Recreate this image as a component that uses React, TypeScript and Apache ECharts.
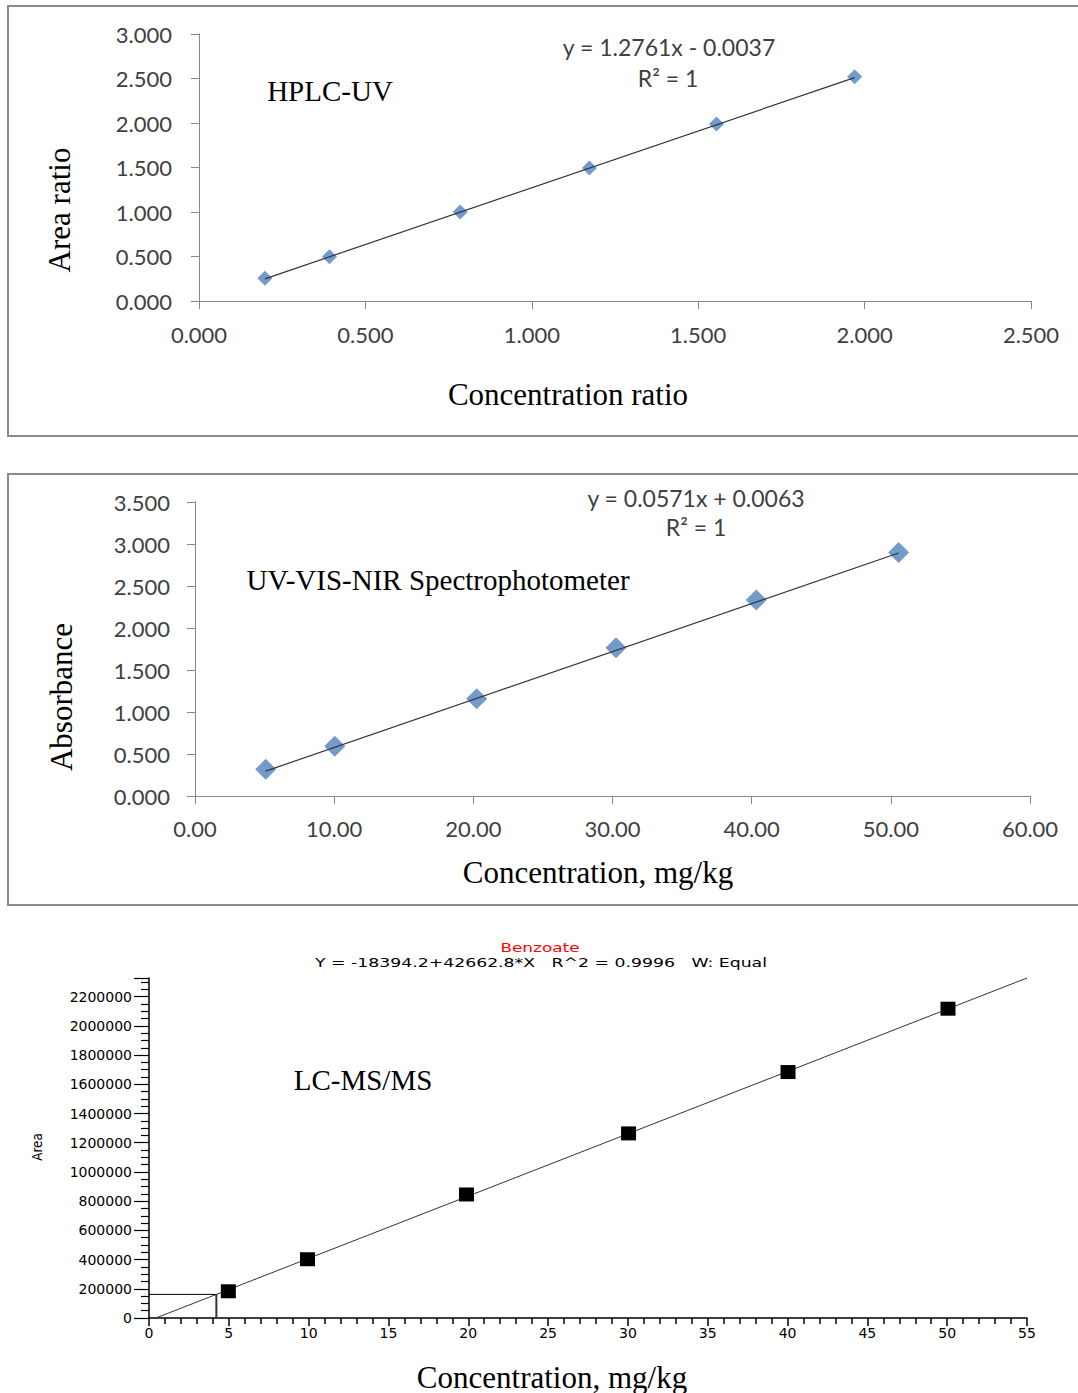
import React, { useEffect, useRef } from 'react';
import * as echarts from 'echarts';

// ---------- Panel 1: HPLC-UV ----------
const hplcConcRatio = [0.198, 0.392, 0.785, 1.173, 1.555, 1.970];
const hplcAreaRatio = [0.255, 0.498, 1.001, 1.493, 1.988, 2.520];
const hplcSlope = 1.2761;
const hplcIntercept = -0.0037;

// ---------- Panel 2: UV-VIS-NIR ----------
const uvConc = [5.08, 10.04, 20.24, 30.25, 40.33, 50.56];
const uvAbsorbance = [0.318, 0.593, 1.157, 1.765, 2.334, 2.899];
const uvSlope = 0.0571;
const uvIntercept = 0.0063;

// ---------- Panel 3: LC-MS/MS ----------
const msConc = [4.97, 9.93, 19.89, 30.04, 40.03, 50.05];
const msArea = [183000, 402300, 845800, 1263900, 1684000, 2117900];
const msSlope = 42662.8;
const msIntercept = -18394.2;
const msXMax = 55;
const msSampleConc = 4.22;

const serif = '"Liberation Serif", "Times New Roman", serif';
const sans = 'Lato, "Open Sans", sans-serif';
const msFont = '"DejaVu Sans", sans-serif';

const excelAxisLine = { lineStyle: { color: '#868686', width: 1 } };

function excelAxis(gridIndex: number, min: number, max: number, interval: number, decimals: number, margin: number) {
  return {
    type: 'value',
    gridIndex,
    min,
    max,
    interval,
    axisLine: { show: true, ...excelAxisLine },
    axisTick: { show: true, length: 8, lineStyle: { color: '#868686' } },
    splitLine: { show: false },
    axisLabel: {
      formatter: (v: number) => v.toFixed(decimals),
      fontFamily: sans,
      fontSize: 22,
      color: '#404040',
      margin,
    },
  };
}

export default function App() {
  const ref = useRef<HTMLDivElement>(null);

  useEffect(() => {
    const chart = echarts.init(ref.current!, null, { renderer: 'svg' });

    const hplcFit = [hplcConcRatio[0], hplcConcRatio[hplcConcRatio.length - 1]].map((x) => [x, hplcSlope * x + hplcIntercept]);
    const uvFit = [uvConc[0], uvConc[uvConc.length - 1]].map((x) => [x, uvSlope * x + uvIntercept]);
    const msYMax = msSlope * msXMax + msIntercept;
    const msFit = [0, msXMax].map((x) => [x, msSlope * x + msIntercept]);
    const msSampleArea = msSlope * msSampleConc + msIntercept;

    const option: any = {
      animation: false,
      backgroundColor: '#ffffff',
      grid: [
        { left: 199, top: 34, width: 832, height: 267 },
        { left: 195, top: 502, width: 835, height: 294 },
        { left: 149, top: 978, width: 878, height: 340 },
      ],
      xAxis: [
        excelAxis(0, 0, 2.5, 0.5, 3, 22),
        excelAxis(1, 0, 60, 10, 2, 21),
        {
          type: 'value',
          gridIndex: 2,
          min: 0,
          max: msXMax,
          interval: 5,
          axisLine: { show: true, lineStyle: { color: '#000', width: 1.5 } },
          axisTick: { show: true, length: 8, lineStyle: { color: '#000', width: 1.5 } },
          minorTick: { show: true, splitNumber: 5, length: 6, lineStyle: { color: '#000', width: 1.5 } },
          splitLine: { show: false },
          minorSplitLine: { show: false },
          axisLabel: { fontFamily: msFont, fontSize: 14, color: '#000', margin: 8 },
        },
      ],
      yAxis: [
        excelAxis(0, 0, 3, 0.5, 3, 27),
        excelAxis(1, 0, 3.5, 0.5, 3, 25),
        {
          type: 'value',
          gridIndex: 2,
          min: 0,
          max: msYMax,
          interval: 200000,
          axisLine: { show: true, lineStyle: { color: '#000', width: 1.5 } },
          axisTick: { show: true, length: 15, lineStyle: { color: '#000', width: 1.2 } },
          minorTick: { show: true, splitNumber: 4, length: 8, lineStyle: { color: '#000', width: 1.2 } },
          splitLine: { show: false },
          minorSplitLine: { show: false },
          axisLabel: {
            fontFamily: msFont,
            fontSize: 14,
            color: '#000',
            margin: 17,
            showMaxLabel: false,
            formatter: (v: number) => (v % 200000 === 0 ? String(v) : ''),
          },
        },
      ],
      series: [
        {
          type: 'scatter',
          xAxisIndex: 0,
          yAxisIndex: 0,
          symbol: 'diamond',
          symbolSize: 15,
          itemStyle: { color: '#4F81BD' },
          data: hplcConcRatio.map((x, i) => [x, hplcAreaRatio[i]]),
          z: 2,
        },
        {
          type: 'line',
          xAxisIndex: 0,
          yAxisIndex: 0,
          symbol: 'none',
          lineStyle: { color: '#333', width: 1.2 },
          data: hplcFit,
          z: 3,
        },
        {
          type: 'scatter',
          xAxisIndex: 1,
          yAxisIndex: 1,
          symbol: 'diamond',
          symbolSize: 21,
          itemStyle: { color: '#4F81BD' },
          data: uvConc.map((x, i) => [x, uvAbsorbance[i]]),
          z: 2,
        },
        {
          type: 'line',
          xAxisIndex: 1,
          yAxisIndex: 1,
          symbol: 'none',
          lineStyle: { color: '#333', width: 1.2 },
          data: uvFit,
          z: 3,
        },
        {
          type: 'line',
          xAxisIndex: 2,
          yAxisIndex: 2,
          symbol: 'none',
          clip: true,
          lineStyle: { color: '#333', width: 1 },
          data: msFit,
          z: 2,
        },
        {
          type: 'line',
          xAxisIndex: 2,
          yAxisIndex: 2,
          symbol: 'none',
          lineStyle: { color: '#000', width: 1 },
          data: [[0, msSampleArea], [msSampleConc, msSampleArea]],
          z: 2,
        },
        {
          type: 'line',
          xAxisIndex: 2,
          yAxisIndex: 2,
          symbol: 'none',
          lineStyle: { color: '#333', width: 2 },
          data: [[msSampleConc, 0], [msSampleConc, msSampleArea]],
          z: 2,
        },
        {
          type: 'scatter',
          xAxisIndex: 2,
          yAxisIndex: 2,
          symbol: 'rect',
          symbolSize: [15, 14],
          itemStyle: { color: '#000', opacity: 1 },
          data: msConc.map((x, i) => [x, msArea[i]]),
          z: 3,
        },
      ],
      graphic: [
        { type: 'rect', silent: true, z: -10, shape: { x: 8, y: 6, width: 1090, height: 430 }, style: { fill: 'none', stroke: '#8a8a8a', lineWidth: 2 } },
        { type: 'rect', silent: true, z: -10, shape: { x: 8, y: 474, width: 1090, height: 431 }, style: { fill: 'none', stroke: '#8a8a8a', lineWidth: 2 } },
        // panel 1 texts
        { type: 'text', x: 330, y: 91, style: { text: 'HPLC-UV', font: `29px ${serif}`, fill: '#000', align: 'center', verticalAlign: 'middle' } },
        { type: 'text', x: 669, y: 47, style: { text: 'y = 1.2761x - 0.0037', font: `23px ${sans}`, fill: '#404040', align: 'center', verticalAlign: 'middle' } },
        { type: 'text', x: 668, y: 78, style: { text: 'R² = 1', font: `23px ${sans}`, fill: '#404040', align: 'center', verticalAlign: 'middle' } },
        { type: 'text', x: 59, y: 210, rotation: Math.PI / 2, style: { text: 'Area ratio', font: `31px ${serif}`, fill: '#000', align: 'center', verticalAlign: 'middle' } },
        { type: 'text', x: 568, y: 394, style: { text: 'Concentration ratio', font: `31px ${serif}`, fill: '#000', align: 'center', verticalAlign: 'middle' } },
        // panel 2 texts
        { type: 'text', x: 438, y: 580, style: { text: 'UV-VIS-NIR Spectrophotometer', font: `29px ${serif}`, fill: '#000', align: 'center', verticalAlign: 'middle' } },
        { type: 'text', x: 696, y: 498, style: { text: 'y = 0.0571x + 0.0063', font: `23px ${sans}`, fill: '#404040', align: 'center', verticalAlign: 'middle' } },
        { type: 'text', x: 696, y: 527, style: { text: 'R² = 1', font: `23px ${sans}`, fill: '#404040', align: 'center', verticalAlign: 'middle' } },
        { type: 'text', x: 61, y: 697, rotation: Math.PI / 2, style: { text: 'Absorbance', font: `31px ${serif}`, fill: '#000', align: 'center', verticalAlign: 'middle' } },
        { type: 'text', x: 598, y: 872, style: { text: 'Concentration, mg/kg', font: `31px ${serif}`, fill: '#000', align: 'center', verticalAlign: 'middle' } },
        // panel 3 texts
        { type: 'text', x: 540, y: 948, scaleX: 1.3, style: { text: 'Benzoate', font: `13px ${msFont}`, fill: '#ff0000', align: 'center', verticalAlign: 'middle' } },
        { type: 'text', x: 541, y: 963, scaleX: 1.33, style: { text: 'Y = -18394.2+42662.8*X   R^2 = 0.9996   W: Equal', font: `13px ${msFont}`, fill: '#000', align: 'center', verticalAlign: 'middle' } },
        { type: 'text', x: 37, y: 1147, rotation: Math.PI / 2, scaleX: 0.85, style: { text: 'Area', font: `14px ${msFont}`, fill: '#000', align: 'center', verticalAlign: 'middle' } },
        { type: 'text', x: 363, y: 1080, style: { text: 'LC-MS/MS', font: `29px ${serif}`, fill: '#000', align: 'center', verticalAlign: 'middle' } },
        { type: 'text', x: 552, y: 1377, style: { text: 'Concentration, mg/kg', font: `31px ${serif}`, fill: '#000', align: 'center', verticalAlign: 'middle' } },
      ],
    };

    chart.setOption(option);
    return () => chart.dispose();
  }, []);

  return (
    <div
      ref={ref}
      style={{ position: 'absolute', left: 0, top: 0, width: 1078, height: 1393, background: '#fff' }}
    />
  );
}
